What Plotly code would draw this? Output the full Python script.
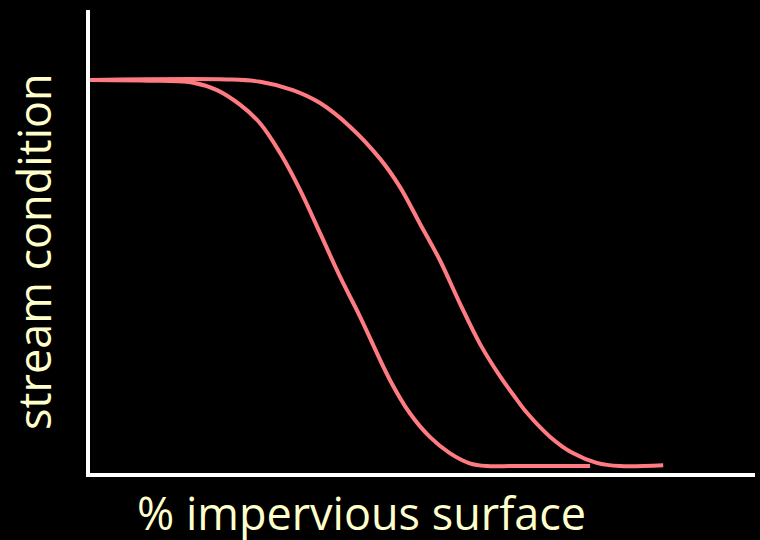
import plotly.graph_objects as go

# % impervious surface (0-100) vs stream condition (0-100)
x_sensitive = [0, 10.5, 15.5, 19.1, 22.6, 25.6, 28.6, 31.6, 34.6, 37.6, 40.6, 45.1,
               48.1, 51.1, 54.1, 57.1, 59.7, 63.6, 75.2]
y_sensitive = [84.9, 84.7, 84.3, 82.7, 79.5, 75.5, 69.1, 61.1, 51.8, 42.4, 33.8, 20.1,
               12.9, 7.8, 4.3, 2.1, 1.5, 1.5, 1.5]

x_tolerant = [0, 20.6, 25.6, 30.5, 34.6, 39.1, 43.6, 46.6, 49.6, 52.6, 55.6, 58.6,
              61.7, 63.7, 65.7, 69.2, 72.6, 76.2, 79.7, 86.2]
y_tolerant = [84.9, 85.0, 84.5, 82.7, 79.9, 74.8, 67.9, 61.8, 53.9, 46.0, 36.7, 28.0,
              20.8, 16.8, 13.0, 7.8, 4.3, 2.2, 1.5, 1.7]

x_label = "% impervious surface"
y_label = "stream condition"

line_color = "#FF7B82"
text_color = "#FFFFCC"

fig = go.Figure()
for xs, ys in [(x_sensitive, y_sensitive), (x_tolerant, y_tolerant)]:
    fig.add_trace(go.Scatter(x=xs, y=ys, mode="lines",
                             line=dict(color=line_color, width=4, shape="spline", smoothing=1.0),
                             hoverinfo="skip", showlegend=False))

fig.update_layout(
    width=760, height=540,
    paper_bgcolor="black", plot_bgcolor="black",
    margin=dict(l=90, r=5, t=10, b=67),
    xaxis=dict(range=[0, 100], showgrid=False, zeroline=False, showticklabels=False,
               ticks="", showline=True, linecolor="white", linewidth=4, fixedrange=True),
    yaxis=dict(range=[0, 100], showgrid=False, zeroline=False, showticklabels=False,
               ticks="", showline=True, linecolor="white", linewidth=4, fixedrange=True),
    annotations=[
        dict(text=x_label, xref="paper", yref="paper", x=(361 - 90) / 665, y=0,
             yshift=-7, xanchor="center", yanchor="top", showarrow=False,
             font=dict(family="Open Sans", size=45, color=text_color)),
        dict(text=y_label, xref="paper", yref="paper", x=0, y=(473 - 252) / 463,
             xshift=-56, xanchor="center", yanchor="middle", textangle=-90, showarrow=False,
             font=dict(family="Open Sans", size=45, color=text_color)),
    ],
)

fig.write_html("out.html", config={"displayModeBar": False},
               post_script="document.body.style.margin='0';document.body.style.background='black';")
